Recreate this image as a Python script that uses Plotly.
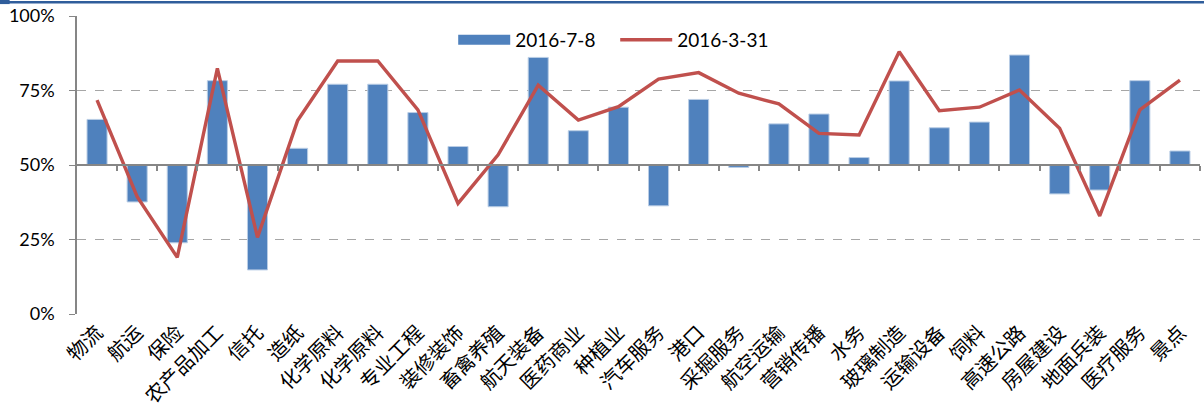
import plotly.graph_objects as go

categories = ["物流", "航运", "保险", "农产品加工", "信托", "造纸", "化学原料", "化学原料",
              "专业工程", "装修装饰", "畜禽养殖", "航天装备", "医药商业", "种植业", "汽车服务",
              "港口", "采掘服务", "航空运输", "营销传播", "水务", "玻璃制造", "运输设备", "饲料",
              "高速公路", "房屋建设", "地面兵装", "医疗服务", "景点"]

bar_2016_7_8 = [0.653, 0.376, 0.239, 0.783, 0.148, 0.556, 0.771, 0.771,
                0.676, 0.562, 0.360, 0.861, 0.615, 0.694, 0.363,
                0.720, 0.492, 0.638, 0.671, 0.525, 0.782, 0.625, 0.644,
                0.869, 0.403, 0.416, 0.783, 0.547]

line_2016_3_31 = [0.718, 0.394, 0.190, 0.824, 0.257, 0.649, 0.849, 0.849,
                  0.685, 0.371, 0.534, 0.768, 0.651, 0.696, 0.788,
                  0.810, 0.741, 0.705, 0.606, 0.601, 0.880, 0.682, 0.694,
                  0.752, 0.623, 0.329, 0.685, 0.785]

baseline = 0.5
y_tickvals = [0, 0.25, 0.5, 0.75, 1.0]
y_ticktext = ["0%", "25%", "50%", "75%", "100%"]

BAR_COLOR = "#4F81BD"
LINE_COLOR = "#C0504D"

n = len(categories)
xs = list(range(n))

fig = go.Figure()
fig.add_trace(go.Bar(
    x=xs, y=[v - baseline for v in bar_2016_7_8], base=[baseline] * n,
    name="2016-7-8", marker=dict(color=BAR_COLOR, line=dict(color="#B9CDE5", width=1)),
    width=0.5, showlegend=False,
))
# legend-only entry drawn as a wide rectangle swatch, like the reference
fig.add_trace(go.Scatter(
    x=[None], y=[None], mode="lines", name="2016-7-8",
    line=dict(color=BAR_COLOR, width=12), hoverinfo="skip",
))
fig.add_trace(go.Scatter(
    x=xs, y=line_2016_3_31, mode="lines", name="2016-3-31",
    line=dict(color=LINE_COLOR, width=3.4),
))
# invisible helper trace for the axis drawn at the 50% line
fig.add_trace(go.Scatter(x=[0], y=[baseline], xaxis="x2", mode="markers",
                         marker=dict(opacity=0), showlegend=False, hoverinfo="skip"))

fig.update_layout(
    width=1204, height=411,
    margin=dict(l=77, r=4, t=16, b=97, autoexpand=False),
    paper_bgcolor="white", plot_bgcolor="white",
    font=dict(family="Lato, Noto Sans CJK SC", color="#000000"),
    showlegend=True,
    legend=dict(orientation="h", x=0.335, y=0.92, xanchor="left", yanchor="middle",
                font=dict(size=19, family="Lato"), itemwidth=52, bgcolor="rgba(0,0,0,0)",
                entrywidth=95, entrywidthmode="pixels", traceorder="normal"),
    xaxis=dict(
        range=[-0.5, n - 0.5], tickmode="array", tickvals=xs, ticktext=categories,
        tickangle=-45, tickfont=dict(size=20, family="Noto Sans CJK SC"),
        showline=False, showgrid=False, ticks="", zeroline=False, automargin=False,
        ticklabelstandoff=2,
    ),
    xaxis2=dict(
        range=[-0.5, n - 0.5], overlaying="x", anchor="free", position=0.5,
        showline=True, linecolor="#868686", linewidth=1.5,
        tickmode="array", tickvals=[i + 0.5 for i in range(n)], ticks="outside",
        ticklen=5, tickcolor="#868686", tickwidth=1.5, showticklabels=False,
        showgrid=False, zeroline=False, automargin=False,
    ),
    yaxis=dict(
        range=[0, 1.0], tickmode="array", tickvals=y_tickvals, ticktext=y_ticktext,
        tickfont=dict(size=18, family="Lato"), automargin=False, ticklabelstandoff=11,
        showgrid=True, gridcolor="#A6A6A6", griddash="dash", gridwidth=1,
        showline=True, linecolor="#868686", linewidth=1.5,
        ticks="outside", ticklen=6, tickcolor="#868686", zeroline=False,
    ),
    shapes=[
        dict(type="line", xref="paper", yref="paper", x0=-0.07, x1=1.004, y0=1.046, y1=1.046,
             line=dict(color="#2F5D9B", width=2.5)),
        dict(type="rect", xref="paper", yref="paper", x0=-0.0686, x1=-0.060, y0=1.04, y1=1.055,
             fillcolor="#2F5D9B", line=dict(width=0)),
    ],
)

fig.write_html("out.html", config={"displayModeBar": False},
               post_script="document.body.style.margin='0';document.body.style.overflow='hidden';")
